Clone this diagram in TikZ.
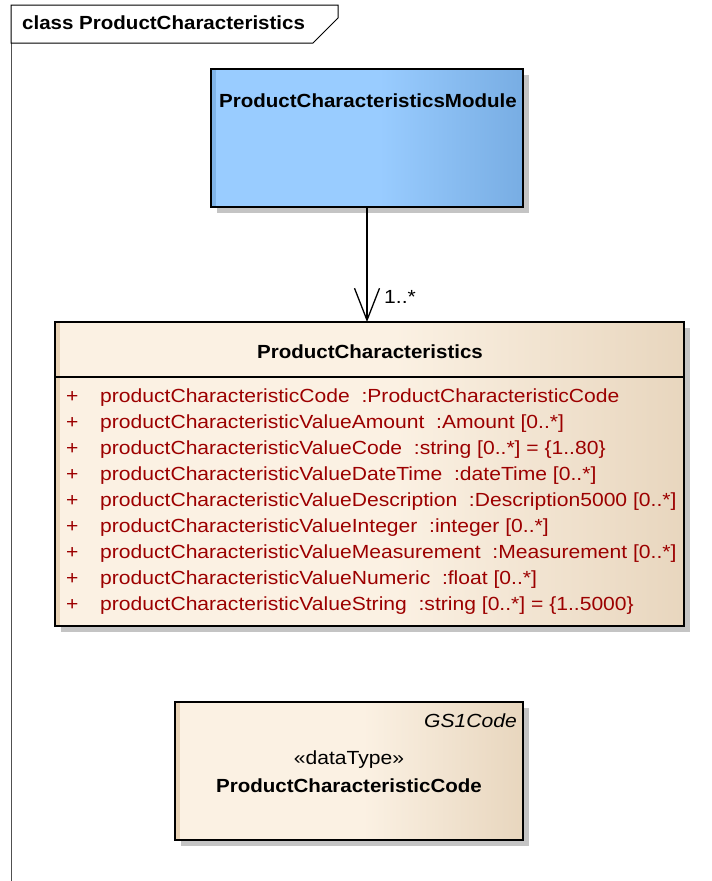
\documentclass[tikz,border=0pt]{standalone}
\usepackage{fontspec}
\setmainfont{Liberation Sans}
\usetikzlibrary{arrows.meta}
\definecolor{creamL}{HTML}{FBF1E3}
\definecolor{creamR}{HTML}{E8D6BE}
\definecolor{creamS}{HTML}{E9D3B6}
\definecolor{blueL}{HTML}{99CCFF}
\definecolor{blueR}{HTML}{78ADE3}
\definecolor{blueS}{HTML}{80B4E8}
\definecolor{shadowc}{HTML}{C4C4C4}
\definecolor{attrred}{HTML}{9C0000}
\definecolor{framec}{HTML}{505050}
\pgfdeclarehorizontalshading{creamsh}{100bp}{color(0bp)=(creamL); color(52bp)=(creamL); color(75bp)=(creamR); color(100bp)=(creamR)}
\pgfdeclarehorizontalshading{bluesh}{100bp}{color(0bp)=(blueL); color(52bp)=(blueL); color(75bp)=(blueR); color(100bp)=(blueR)}
\newcommand{\wx}[1]{\scalebox{1.11}[1]{#1}}
\newcommand{\wb}[1]{\scalebox{1.08}[1]{#1}}
\begin{document}
\begin{tikzpicture}[x=1pt,y=-1pt,
  boxnode/.style={anchor=north west, inner sep=0pt, outer sep=0pt},
  creamfill/.style={shading=creamsh},
  bluefill/.style={shading=bluesh},
  border/.style={draw=black, line width=1.4pt},
  txt/.style={inner sep=0pt, font=\fontsize{19}{22}\selectfont},
  boldtxt/.style={txt, font=\fontsize{19}{22}\selectfont\bfseries},
  attr/.style={txt, text=attrred, anchor=base west},
  assoc/.style={line width=1.3pt, -{Straight Barb[length=32pt,width=25pt,line width=1.3pt]}}
]
\useasboundingbox (0,0) rectangle (712,881);
\fill[white] (0,0) rectangle (712,881);

% frame
\draw[framec, line width=1pt] (11,881) -- (11,43);
\draw[black, line width=1pt] (11,43) -- (11,5) -- (338,5) -- (338,18) -- (313,43) -- cycle;
\node[boldtxt, anchor=base west] (frametitle) at (22,29.5) {\wb{class ProductCharacteristics}};

% module box
\fill[shadowc] (217,75) rectangle (529,213);
\node[boxnode, bluefill, minimum width=312pt, minimum height=138pt] (mod) at (211,69) {};
\fill[blueS] (mod.north west) rectangle ([xshift=5pt]mod.south west);
\draw[border] (mod.north west) rectangle (mod.south east);
\node[boldtxt, anchor=base] (modt) at (368,107) {\wb{ProductCharacteristicsModule}};

% ProductCharacteristics class
\fill[shadowc] (61,328) rectangle (690,632);
\node[boxnode, creamfill, minimum width=629pt, minimum height=304pt] (pc) at (55,322) {};
\fill[creamS] (pc.north west) rectangle ([xshift=5pt]pc.south west);
\draw[border] (pc.north west) rectangle (pc.south east);
\draw[black, line width=1.4pt] (55,377) -- (684,377);
\node[boldtxt, anchor=base] (pct) at (370,358) {\wb{ProductCharacteristics}};

\foreach \i/\t in {0/{productCharacteristicCode~~:ProductCharacteristicCode},
                   1/{productCharacteristicValueAmount~~:Amount [0..*]},
                   2/{productCharacteristicValueCode~~:string [0..*] = \{1..80\}},
                   3/{productCharacteristicValueDateTime~~:dateTime [0..*]},
                   4/{productCharacteristicValueDescription~~:Description5000 [0..*]},
                   5/{productCharacteristicValueInteger~~:integer [0..*]},
                   6/{productCharacteristicValueMeasurement~~:Measurement [0..*]},
                   7/{productCharacteristicValueNumeric~~:float [0..*]},
                   8/{productCharacteristicValueString~~:string [0..*] = \{1..5000\}}}{
  \node[attr] (plus\i) at (66,{402+26*\i}) {\wx{+}};
  \node[attr] (att\i) at (100,{402+26*\i}) {\wx{\t}};
}

% association
\draw[assoc] (mod.south -| 367,0) -- (367,322) coordinate (tip);
\node[txt, anchor=base west] (mult) at (384,303) {\wx{1..*}};

% data type box
\fill[shadowc] (181,708) rectangle (529,846);
\node[boxnode, creamfill, minimum width=348pt, minimum height=138pt] (dt) at (175,702) {};
\fill[creamS] (dt.north west) rectangle ([xshift=5pt]dt.south west);
\draw[border] (dt.north west) rectangle (dt.south east);
\node[txt, anchor=base east, font=\fontsize{19}{22}\selectfont\itshape] (gs1) at (517,727) {\wx{GS1Code}};
\node[txt, anchor=base] (stereo) at (349,764.5) {\wx{«dataType»}};
\node[boldtxt, anchor=base] (dtname) at (349,792) {\wb{ProductCharacteristicCode}};
\end{tikzpicture}
\end{document}
